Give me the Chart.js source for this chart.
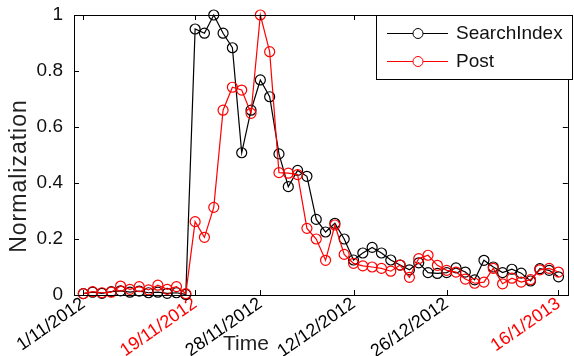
<!DOCTYPE html>
<html>
<head>
<meta charset="utf-8">
<script src="https://cdn.jsdelivr.net/npm/chart.js@4/dist/chart.umd.min.js"></script>
<style>
  body { margin: 0; background: #fff; }
  #wrap { width: 574px; height: 356px; }
</style>
</head>
<body>
<div id="wrap"><canvas id="chart" width="574" height="356"></canvas></div>
<script>
// x position of each sample (index along the time axis)
const xIndex = [1, 2, 3, 4, 5, 6, 7, 8, 9, 10, 11, 12,
  13, 14, 15, 16, 17, 18, 19, 20, 21, 22, 23, 24, 25, 26, 27, 28, 29, 30,
  31, 32, 33, 34, 35, 36, 37, 38, 39, 40, 41, 42, 43, 44, 45, 46, 47, 48, 49, 50, 51, 52];

const searchIndex = [0.005, 0.01, 0.006, 0.012, 0.015, 0.01, 0.014, 0.008, 0.01, 0.006, 0.008, 0.002,
  0.95, 0.935, 1.0, 0.935, 0.883, 0.508, 0.66, 0.768, 0.708, 0.504, 0.387, 0.445, 0.424, 0.27, 0.225, 0.256, 0.2, 0.125,
  0.15, 0.17, 0.15, 0.125, 0.107, 0.09, 0.115, 0.08, 0.077, 0.08, 0.097, 0.082, 0.054, 0.124, 0.1, 0.08, 0.092, 0.078, 0.05, 0.094, 0.088, 0.065];

const post = [0.005, 0.012, 0.008, 0.01, 0.032, 0.02, 0.03, 0.018, 0.035, 0.02, 0.03, 0.005,
  0.262, 0.206, 0.313, 0.66, 0.742, 0.732, 0.649, 1.0, 0.869, 0.437, 0.435, 0.43, 0.238, 0.2, 0.124, 0.25, 0.145, 0.113,
  0.104, 0.1, 0.095, 0.085, 0.107, 0.063, 0.13, 0.142, 0.106, 0.088, 0.082, 0.057, 0.042, 0.046, 0.095, 0.04, 0.06, 0.046, 0.055, 0.09, 0.095, 0.082];

const tickPos = [1, 13, 20, 30, 40, 52];
const tickLabels = ['1/11/2012', '19/11/2012', '28/11/2012', '12/12/2012', '26/12/2012', '16/1/2013'];
const tickRed = [false, true, false, false, false, true];

const yTicks = [0, 0.2, 0.4, 0.6, 0.8, 1];

const FONT = "'Liberation Sans', Arial, sans-serif";

const frame = {
  id: 'frame',
  afterDraw(chart) {
    const ctx = chart.ctx;
    const a = chart.chartArea;
    const xs = chart.scales.x, ys = chart.scales.y;
    ctx.save();
    ctx.strokeStyle = '#000';
    ctx.lineWidth = 1;
    ctx.strokeRect(Math.round(a.left) + 0.5, Math.round(a.top) + 0.5,
      Math.round(a.right - a.left), Math.round(a.bottom - a.top));
    // inward tick marks, like matlab
    ctx.beginPath();
    tickPos.forEach(v => {
      const px = Math.round(xs.getPixelForValue(v)) + 0.5;
      ctx.moveTo(px, a.bottom); ctx.lineTo(px, a.bottom - 5);
      ctx.moveTo(px, a.top); ctx.lineTo(px, a.top + 5);
    });
    yTicks.forEach(v => {
      const py = Math.round(ys.getPixelForValue(v)) + 0.5;
      ctx.moveTo(a.left, py); ctx.lineTo(a.left + 5, py);
      ctx.moveTo(a.right, py); ctx.lineTo(a.right - 5, py);
    });
    ctx.stroke();

    // axis titles
    ctx.fillStyle = '#222';
    ctx.font = '21px ' + FONT;
    ctx.textAlign = 'center';
    ctx.textBaseline = 'middle';
    ctx.fillText('Time', 246, 344);
    ctx.save();
    ctx.translate(20, 176);
    ctx.rotate(-Math.PI / 2);
    ctx.font = '23px ' + FONT;
    ctx.letterSpacing = '1px';
    ctx.fillText('Normalization', 0, 0);
    ctx.restore();

    // legend box
    const lx = 376.5, ly = 15.5, lw = 196, lh = 64;
    ctx.fillStyle = '#fff';
    ctx.fillRect(lx, ly, lw, lh);
    ctx.strokeStyle = '#000';
    ctx.strokeRect(lx, ly, lw, lh);
    ctx.font = '19px ' + FONT;
    ctx.textAlign = 'left';
    chart.data.datasets.forEach((ds, i) => {
      const y = 33.5 + i * 28;
      ctx.strokeStyle = ds.borderColor;
      ctx.beginPath();
      ctx.moveTo(387, y); ctx.lineTo(448, y);
      ctx.stroke();
      ctx.beginPath();
      ctx.arc(418, y, 5, 0, Math.PI * 2);
      ctx.fillStyle = '#fff';
      ctx.fill();
      ctx.stroke();
      ctx.fillStyle = '#111';
      ctx.fillText(ds.label, 456, y);
    });
    ctx.restore();
  }
};

const toPoints = arr => arr.map((v, i) => ({ x: xIndex[i], y: v }));

new Chart(document.getElementById('chart'), {
  type: 'line',
  data: {
    datasets: [
      {
        label: 'SearchIndex',
        data: toPoints(searchIndex),
        borderColor: '#000',
        borderWidth: 1.2,
        pointRadius: 5,
        pointBorderWidth: 1.2,
        pointBorderColor: '#000',
        pointBackgroundColor: 'rgba(0,0,0,0)',
        clip: false,
        order: 1
      },
      {
        label: 'Post',
        data: toPoints(post),
        borderColor: '#ff0000',
        borderWidth: 1.2,
        pointRadius: 5,
        pointBorderWidth: 1.2,
        pointBorderColor: '#ff0000',
        pointBackgroundColor: 'rgba(0,0,0,0)',
        clip: false,
        order: 0
      }
    ]
  },
  options: {
    responsive: false,
    animation: false,
    layout: { padding: { top: 15, right: 1, left: 0, bottom: 0 } },
    plugins: { legend: { display: false }, tooltip: { enabled: false } },
    scales: {
      x: {
        type: 'linear',
        min: 0,
        max: 53,
        grid: { display: false },
        border: { display: false },
        afterBuildTicks: s => { s.ticks = tickPos.map(v => ({ value: v })); },
        afterFit: s => { s.height = 61; },
        ticks: {
          autoSkip: false,
          minRotation: 35,
          maxRotation: 35,
          padding: -10,
          font: { size: 18, family: FONT },
          color: c => tickRed[tickPos.indexOf(c.tick.value)] ? '#ff0000' : '#000',
          callback: v => tickLabels[tickPos.indexOf(v)]
        }
      },
      y: {
        min: 0,
        max: 1,
        grid: { display: false },
        border: { display: false },
        afterBuildTicks: s => { s.ticks = yTicks.map(v => ({ value: v })); },
        afterFit: s => { s.width = 74; },
        ticks: {
          padding: 3,
          font: { size: 19, family: FONT },
          color: '#111',
          callback: v => String(v)
        }
      }
    }
  },
  plugins: [frame]
});
</script>
</body>
</html>
